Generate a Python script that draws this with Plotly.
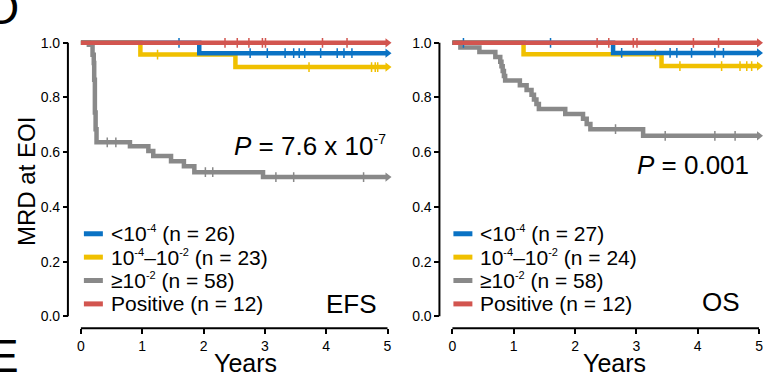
import plotly.graph_objects as go

W, H = 775, 381

# ---------------- data ----------------
colors = {"blue": "#0a72c4", "yellow": "#f0c000", "gray": "#898989", "red": "#d2554f"}

# EFS (event times / survival after each event / censor times)
efs_blue_t = [1.93]
efs_blue_s = [0.962]
efs_blue_c = [1.6, 2.76, 3.04, 3.33, 3.47, 3.56, 3.65, 3.91, 4.18, 4.29, 4.42]

efs_yellow_t = [0.97, 2.52]
efs_yellow_s = [0.957, 0.911]
efs_yellow_c = [1.25, 3.72, 4.74, 4.80, 4.84]

efs_gray_t = [0.13, 0.19, 0.21, 0.217, 0.228, 0.24, 0.255, 0.80, 1.10, 1.18, 1.47, 1.68, 1.85, 2.97]
efs_gray_s = [0.993, 0.956, 0.926, 0.865, 0.745, 0.684, 0.636, 0.622, 0.604, 0.586, 0.567, 0.549, 0.527, 0.509]
efs_gray_c = [0.43, 0.57, 2.03, 2.15, 3.18, 3.47, 4.61]

efs_red_t = []
efs_red_s = []
efs_red_c = [2.35, 2.55, 2.74, 2.96, 3.01, 3.94, 4.34]

# OS
os_blue_t = [2.62]
os_blue_s = [0.963]
os_blue_c = [0.18, 1.6, 2.76, 3.55, 3.66, 3.90, 4.28, 4.42]

os_yellow_t = [1.16, 3.41]
os_yellow_s = [0.958, 0.915]
os_yellow_c = [3.31, 3.71, 4.39, 4.69, 4.80, 4.88]

os_gray_t = [0.13, 0.44, 0.70, 0.78, 0.80, 0.82, 0.84, 0.86, 1.10, 1.21, 1.29, 1.33, 1.37, 1.41,
             1.84, 2.13, 2.19, 2.25, 3.11]
os_gray_s = [0.983, 0.966, 0.948, 0.931, 0.914, 0.897, 0.879, 0.862, 0.845, 0.827, 0.810, 0.793,
             0.776, 0.758, 0.740, 0.722, 0.703, 0.684, 0.660]
os_gray_c = [2.66, 3.47, 4.28, 4.61]

os_red_t = []
os_red_s = []
os_red_c = [2.36, 2.55, 2.95, 3.01, 3.93, 4.34]


def sup(s):
    return "<sup><span style='font-size:11px'>" + s + "</span></sup>"


efs_labels = ["&lt;10" + sup("-4") + " (n = 26)", "10" + sup("-4") + "–10" + sup("-2") + " (n = 23)",
              "≥10" + sup("-2") + " (n = 58)", "Positive (n = 12)"]
os_labels = ["&lt;10" + sup("-4") + " (n = 27)", "10" + sup("-4") + "–10" + sup("-2") + " (n = 24)",
             "≥10" + sup("-2") + " (n = 58)", "Positive (n = 12)"]
efs_p = "<i>P</i> = 7.6 x 10<sup><span style='font-size:14px'>-7</span></sup>"
os_p = "<i>P</i> = 0.001"

x_ticks = [0, 1, 2, 3, 4, 5]
y_ticks = [0.0, 0.2, 0.4, 0.6, 0.8, 1.0]
T_END = 5.0

# ---------------- layout helpers ----------------
FONT = "Arial, Liberation Sans, Helvetica, sans-serif"
PPU_X, PPU_Y = 61.4, 275.0
Y0PX = 318.0
XR = [-0.05, 5.12]
YR = [-0.02, 1.03]


def xdom(x0px):
    return [(x0px + XR[0] * PPU_X) / W, (x0px + XR[1] * PPU_X) / W]


ydom = [1 - (Y0PX - YR[0] * PPU_Y) / H, 1 - (Y0PX - YR[1] * PPU_Y) / H]


def step_xy(ts, ss):
    xs = [0.0] + list(ts) + [T_END]
    ys = [1.0] + list(ss) + [ss[-1] if ss else 1.0]
    return xs, ys


def surv_at(t, ts, ss):
    s = 1.0
    for ti, si in zip(ts, ss):
        if ti <= t:
            s = si
    return s


fig = go.Figure()

panels = [
    dict(xa="x", ya="y", curves=[
        ("gray", efs_gray_t, efs_gray_s, efs_gray_c),
        ("yellow", efs_yellow_t, efs_yellow_s, efs_yellow_c),
        ("blue", efs_blue_t, efs_blue_s, efs_blue_c),
        ("red", efs_red_t, efs_red_s, efs_red_c)]),
    dict(xa="x2", ya="y2", curves=[
        ("gray", os_gray_t, os_gray_s, os_gray_c),
        ("yellow", os_yellow_t, os_yellow_s, os_yellow_c),
        ("blue", os_blue_t, os_blue_s, os_blue_c),
        ("red", os_red_t, os_red_s, os_red_c)]),
]

for p in panels:
    for cname, ts, ss, cs in p["curves"]:
        col = colors[cname]
        xs, ys = step_xy(ts, ss)
        fig.add_trace(go.Scatter(x=xs, y=ys, mode="lines", line=dict(color=col, width=4.5, shape="hv"),
                                 xaxis=p["xa"], yaxis=p["ya"], showlegend=False, hoverinfo="skip"))
        fig.add_trace(go.Scatter(x=cs, y=[surv_at(c, ts, ss) for c in cs], mode="markers",
                                 marker=dict(symbol="line-ns", size=7, line=dict(color=col, width=1.5)),
                                 xaxis=p["xa"], yaxis=p["ya"], showlegend=False, hoverinfo="skip"))
        fig.add_trace(go.Scatter(x=[T_END], y=[ys[-1]], mode="markers",
                                 marker=dict(symbol="triangle-right", size=8, color=col),
                                 xaxis=p["xa"], yaxis=p["ya"], showlegend=False, hoverinfo="skip"))

axis_common = dict(showgrid=False, zeroline=False, showline=False, ticks="outside", ticklen=5,
                   tickwidth=2, tickcolor="black", tickfont=dict(family=FONT, size=14, color="black"))

left_x0, right_x0 = 80.0, 452.0
left_yax, right_yax = 67.0, 439.0
xaxis_ypx = 330.0

fig.update_layout(
    width=W, height=H, margin=dict(l=0, r=0, t=0, b=0),
    paper_bgcolor="white", plot_bgcolor="white",
    xaxis=dict(domain=xdom(left_x0), range=XR, anchor="free", position=1 - xaxis_ypx / H,
               tickvals=x_ticks, **axis_common),
    yaxis=dict(domain=ydom, range=YR, anchor="free", position=left_yax / W,
               tickvals=y_ticks, tickformat=".1f", **axis_common),
    xaxis2=dict(domain=xdom(right_x0), range=XR, anchor="free", position=1 - xaxis_ypx / H,
                tickvals=x_ticks, **axis_common),
    yaxis2=dict(domain=ydom, range=YR, anchor="free", position=right_yax / W,
                tickvals=y_ticks, tickformat=".1f", **axis_common),
    showlegend=False,
)

shapes = []
for xa, ya, yaxpx in [("x", "y", left_yax), ("x2", "y2", right_yax)]:
    shapes.append(dict(type="line", xref="paper", yref=ya, x0=yaxpx / W, x1=yaxpx / W, y0=0, y1=1,
                       line=dict(color="black", width=2)))
    shapes.append(dict(type="line", xref=xa, yref="paper", x0=0, x1=5, y0=1 - xaxis_ypx / H,
                       y1=1 - xaxis_ypx / H, line=dict(color="black", width=2)))

annotations = []


def ann(text, xpx, ypx, size, xanchor="center", yanchor="middle", angle=0):
    annotations.append(dict(text=text, x=xpx / W, y=1 - ypx / H, xref="paper", yref="paper",
                            xanchor=xanchor, yanchor=yanchor, showarrow=False, textangle=angle,
                            font=dict(family=FONT, size=size, color="black")))


legend_rows = [235.0, 258.5, 282.0, 305.5]
leg_cols = ["blue", "yellow", "gray", "red"]
for labels, lx0 in [(efs_labels, 83.0), (os_labels, 453.0)]:
    for lab, cname, ry in zip(labels, leg_cols, legend_rows):
        shapes.append(dict(type="line", xref="paper", yref="paper", x0=lx0 / W, x1=(lx0 + 19) / W,
                           y0=1 - ry / H, y1=1 - ry / H, line=dict(color=colors[cname], width=5)))
        ann(lab, lx0 + 25, ry, 21, xanchor="left")

ann("MRD at EOI", 25, 182, 24, angle=-90)
ann("Years", 245, 365, 25)
ann("Years", 614, 365, 25)
ann(efs_p, 387, 147, 26, xanchor="right")
ann(os_p, 751, 166, 26, xanchor="right")
ann("EFS", 351, 306, 26)
ann("OS", 721, 304, 26)
ann("D", 20, 8, 46, xanchor="right")
ann("E", 20, 358, 46, xanchor="right")

fig.update_layout(shapes=shapes, annotations=annotations)
fig.write_html("out.html", config={"displayModeBar": False},
               post_script="document.body.style.margin='0px';")
